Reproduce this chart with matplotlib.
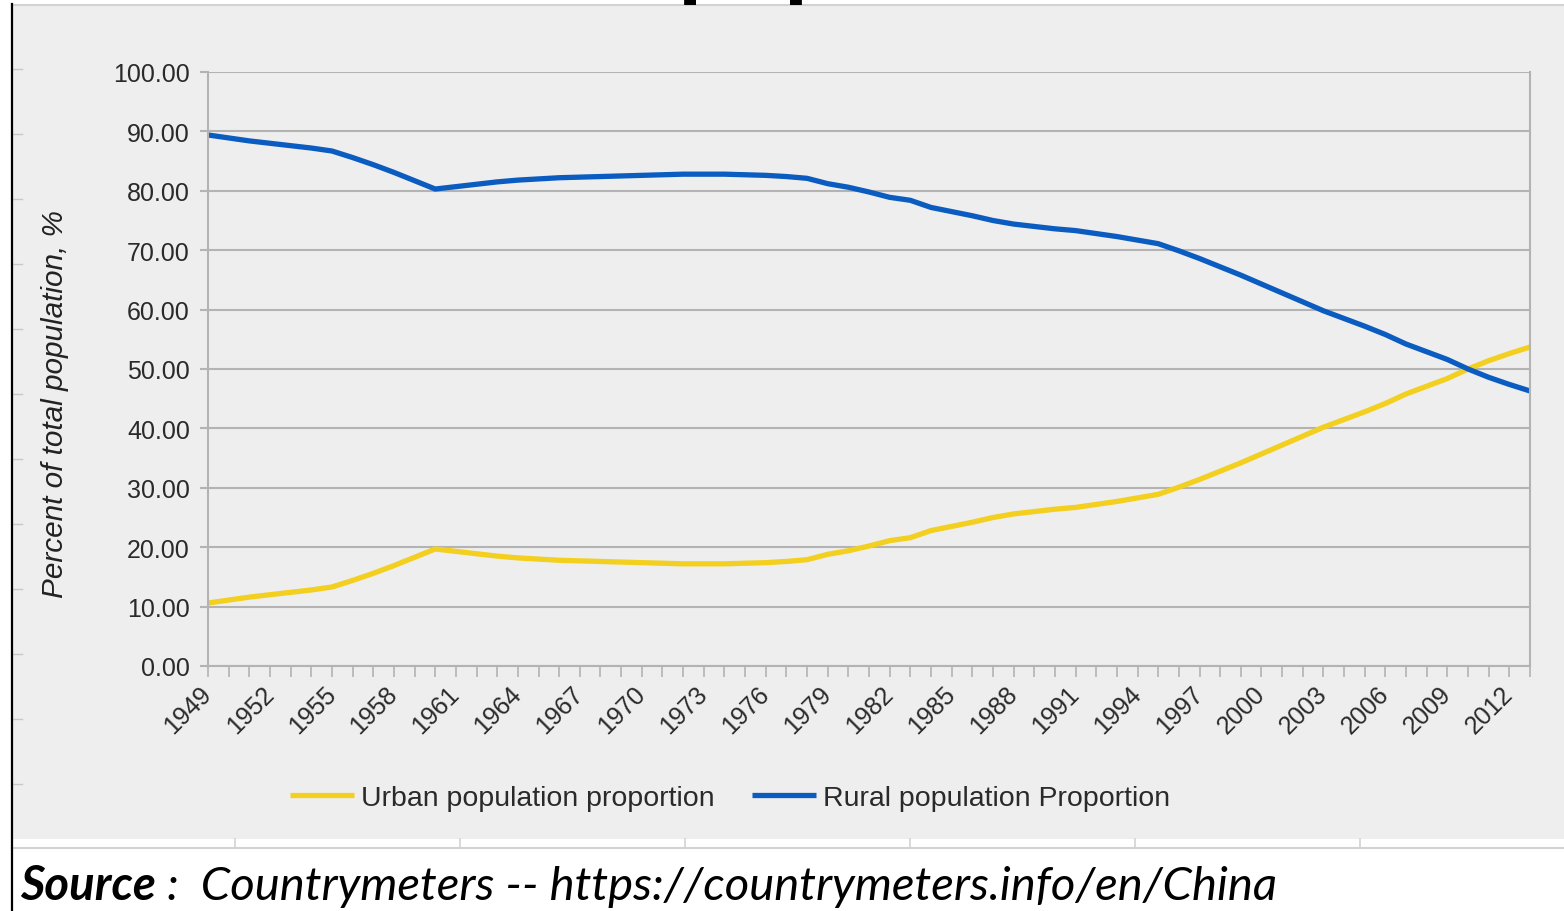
import matplotlib
matplotlib.use("Agg")
import matplotlib.pyplot as plt
from matplotlib.lines import Line2D
from matplotlib.patches import Rectangle

# data: share of total population, %
years = list(range(1949, 2014))
rural = [89.4, 88.9, 88.4, 88.0, 87.6, 87.2, 86.7, 85.6, 84.4, 83.1,
         81.7, 80.3, 80.7, 81.1, 81.5, 81.8, 82.0, 82.2, 82.3, 82.4,
         82.5, 82.6, 82.7, 82.8, 82.8, 82.8, 82.7, 82.6, 82.4, 82.1,
         81.2, 80.6, 79.8, 78.9, 78.4, 77.2, 76.5, 75.8, 75.0, 74.4,
         74.0, 73.6, 73.3, 72.8, 72.3, 71.7, 71.1, 69.9, 68.6, 67.2,
         65.8, 64.3, 62.8, 61.3, 59.8, 58.5, 57.2, 55.8, 54.2, 52.9,
         51.6, 50.0, 48.6, 47.4, 46.3]
urban = [10.6, 11.1, 11.6, 12.0, 12.4, 12.8, 13.3, 14.4, 15.6, 16.9,
         18.3, 19.7, 19.3, 18.9, 18.5, 18.2, 18.0, 17.8, 17.7, 17.6,
         17.5, 17.4, 17.3, 17.2, 17.2, 17.2, 17.3, 17.4, 17.6, 17.9,
         18.8, 19.4, 20.2, 21.1, 21.6, 22.8, 23.5, 24.2, 25.0, 25.6,
         26.0, 26.4, 26.7, 27.2, 27.7, 28.3, 28.9, 30.1, 31.4, 32.8,
         34.2, 35.7, 37.2, 38.7, 40.2, 41.5, 42.8, 44.2, 45.8, 47.1,
         48.4, 50.0, 51.4, 52.6, 53.7]
year_labels = years[::3]
y_ticks = [0, 10, 20, 30, 40, 50, 60, 70, 80, 90, 100]

W, H = 1564, 912
fig = plt.figure(figsize=(W / 100, H / 100), dpi=100)
fig.patch.set_facecolor("white")
plt.rcParams["font.family"] = ["Liberation Sans", "DejaVu Sans"]

def fx(px):
    return px / W

def fy(py):
    return 1 - py / H

# grey chart panel pasted in the document
fig.patches.append(Rectangle((fx(13), fy(840)), 1 - fx(13), fy(6) - fy(840),
                             transform=fig.transFigure, facecolor="#eeeeee",
                             edgecolor="none", zorder=-5))
deco = dict(transform=fig.transFigure, zorder=-4)
fig.lines.append(Line2D([fx(12), 1], [fy(6), fy(6)], color="#d2d2d2", lw=1.5, **deco))
fig.lines.append(Line2D([fx(12), 1], [fy(849), fy(849)], color="#d2d2d2", lw=1.5, **deco))
for px in [235, 460, 685, 910, 1135, 1360]:
    fig.lines.append(Line2D([fx(px), fx(px)], [fy(840), fy(849)],
                            color="#d2d2d2", lw=1.2, **deco))
for py in range(70, 800, 65):
    fig.lines.append(Line2D([fx(12), fx(22)], [fy(py), fy(py)],
                            color="#c8c8c8", lw=1.0, **deco))
fig.lines.append(Line2D([fx(11.5), fx(11.5)], [0, fy(5)], color="black", lw=1.6, **deco))

# cut-off slide title, only the descenders show
fig.text(fx(677), fy(-13), "population", fontsize=63, fontweight="bold",
         color="black", ha="left", va="baseline")

ax = fig.add_axes([fx(208), fy(667), fx(1530) - fx(208), fy(73) - fy(667)])
ax.set_facecolor("none")
ax.set_zorder(2)

ax.plot(years, urban, color="#f3cf1f", lw=3.8, solid_capstyle="butt",
        label="Urban population proportion")
ax.plot(years, rural, color="#0b5cc0", lw=3.8, solid_capstyle="butt",
        label="Rural population Proportion")

ax.set_xlim(1949, 2013)
ax.set_ylim(0, 100)
ax.set_yticks(y_ticks)
ax.set_yticklabels([f"{v:.2f}" for v in y_ticks])
ax.set_xticks(year_labels)
ax.set_xticks(years, minor=True)
ax.set_xticklabels([str(y) for y in year_labels], rotation=45, ha="right",
                   va="center", rotation_mode="anchor")

ax.grid(axis="y", color="#b3b3b3", lw=1.5)
ax.set_axisbelow(True)
for side in ["left", "bottom", "right"]:
    ax.spines[side].set_color("#b3b3b3")
    ax.spines[side].set_linewidth(1.5)
ax.spines["top"].set_visible(False)

ax.tick_params(axis="y", length=6, width=1.5, color="#b3b3b3", pad=7,
               labelsize=18, labelcolor="#2a2a2a")
ax.tick_params(axis="x", which="both", length=8, width=1.2, color="#b3b3b3",
               pad=9, labelsize=18, labelcolor="#2a2a2a")

fig.text(fx(55), fy(404), "Percent of total population, %", rotation=90,
         fontsize=21.4, style="italic", color="#222222", ha="center", va="center")

fig.legend(loc="center", bbox_to_anchor=(fx(730), fy(799)), ncol=2,
           frameon=False, fontsize=20.5, handlelength=2.25, handletextpad=0.25,
           columnspacing=1.3, labelcolor="#2a2a2a")

# source line under the chart
src_font = ["Lato", "DejaVu Sans"]
t1 = fig.text(fx(20), fy(900), "Source", fontsize=34, family=src_font,
              style="italic", fontweight="bold", color="black", va="baseline")
fig.canvas.draw()
bb = t1.get_window_extent()
fig.text(bb.x1 / W, fy(900), " :  Countrymeters -- https://countrymeters.info/en/China",
         fontsize=34, family=src_font, style="italic", color="black", va="baseline")

fig.savefig("out.png", dpi=100, facecolor="white")
